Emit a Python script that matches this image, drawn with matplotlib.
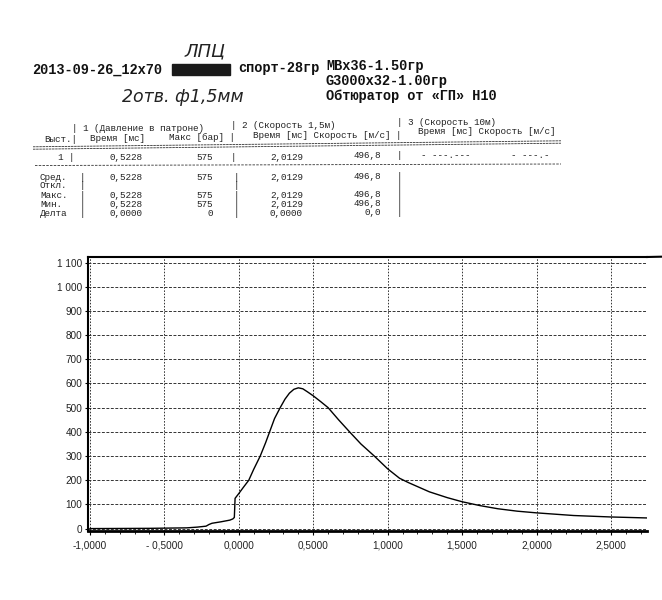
import matplotlib
matplotlib.use("Agg")
import matplotlib.pyplot as plt
from matplotlib.lines import Line2D
from matplotlib.patches import Rectangle
from matplotlib.ticker import MultipleLocator

# ---------------- data ----------------
time_ms = [-1.00, -0.60, -0.35, -0.28, -0.22, -0.20, -0.18, -0.12, -0.06, -0.04,
           -0.03, -0.025, 0.00, 0.03, 0.067, 0.10, 0.144, 0.18, 0.207, 0.24,
           0.278, 0.31, 0.34, 0.37, 0.40, 0.43, 0.46, 0.50, 0.55, 0.60,
           0.67, 0.744, 0.82, 0.91, 1.00, 1.08, 1.14, 1.28, 1.40, 1.50,
           1.62, 1.74, 1.87, 2.00, 2.25, 2.50, 2.74]
pressure_bar = [0, 1, 3, 6, 10, 17, 22, 28, 35, 40,
                46, 125, 145, 170, 200, 245, 300, 355, 400, 455,
                500, 535, 560, 576, 582, 578, 566, 549, 525, 500,
                450, 400, 350, 300, 247, 208, 190, 152, 128, 111,
                95, 82, 72, 65, 54, 48, 44]

x_ticks = [-1.0, -0.5, 0.0, 0.5, 1.0, 1.5, 2.0, 2.5]
x_tick_labels = ["-1,0000", "- 0,5000", "0,0000", "0,5000", "1,0000", "1,5000", "2,0000", "2,5000"]
y_ticks = [0, 100, 200, 300, 400, 500, 600, 700, 800, 900, 1000, 1100]
y_tick_labels = ["0", "100", "200", "300", "400", "500", "600", "700", "800", "900", "1 000", "1 100"]

header_lines = ["2013-09-26_12x70", "спорт-28гр", "MBx36-1.50гр", "G3000x32-1.00гр", "Обтюратор от «ГП» H10"]
hand_notes = ["ЛПЦ", "2отв. ф1,5мм"]

table_head_a = ["| 1 (Давление в патроне)", "| 2 (Скорость 1,5м)", "| 3 (Скорость 10м)"]
table_head_b = ["Выст.|", "Время [мс]", "Макс [бар] |", "Время [мс] Скорость [м/с] |", "Время [мс] Скорость [м/с]"]
shot_row = ["1 |", "0,5228", "575", "|", "2,0129", "496,8", "|", "- ---.---", "- ---.-"]
stat_labels = ["Сред.", "Откл.", "Макс.", "Мин.", "Делта"]
stat_time1 = ["0,5228", "", "0,5228", "0,5228", "0,0000"]
stat_pmax = ["575", "", "575", "575", "0"]
stat_time2 = ["2,0129", "", "2,0129", "2,0129", "0,0000"]
stat_speed = ["496,8", "", "496,8", "496,8", "0,0"]

# ---------------- figure ----------------
W, H = 662, 600
fig = plt.figure(figsize=(W / 100, H / 100), dpi=100)
fig.patch.set_facecolor("white")


def fx(x):
    return x / W


def fy(y):
    return 1 - y / H


def T(x, y, s, **kw):
    kw.setdefault("va", "center")
    fig.text(fx(x), fy(y), s, **kw)


mono_h = dict(family="Liberation Mono", fontsize=9.8, weight="bold", color="#111111")
mono_t = dict(family="Liberation Mono", fontsize=6.7, color="#222222")
hand = dict(family="DejaVu Sans", style="italic", color="#222222")

# header
T(31.7, 70, header_lines[0], **mono_h)
fig.patches.append(Rectangle((fx(172), fy(75)), fx(230) - fx(172), fy(64) - fy(75),
                             transform=fig.transFigure, color="#1a1a1a"))
T(238, 68, header_lines[1], **mono_h)
T(326, 66, header_lines[2], **mono_h)
T(326, 81, header_lines[3], **mono_h)
T(326, 96, header_lines[4], **mono_h)
T(185, 51, hand_notes[0], fontsize=13, **hand)
T(122, 97, hand_notes[1], fontsize=12.5, **hand)

# table header
T(72, 128.5, table_head_a[0], **mono_t)
T(231, 126, table_head_a[1], **mono_t)
T(397, 122.5, table_head_a[2], **mono_t)
T(44, 139, table_head_b[0], **mono_t)
T(90, 138.5, table_head_b[1], **mono_t)
T(169, 137.5, table_head_b[2], **mono_t)
T(253, 135, table_head_b[3], **mono_t)
T(418, 132, table_head_b[4], **mono_t)

# separator lines
for dy in (-1.2, 1.2):
    fig.add_artist(Line2D([fx(33), fx(561)], [fy(148 + dy), fy(142 + dy)],
                          transform=fig.transFigure, color="#333333", lw=0.6,
                          dashes=(3, 0.8)))
fig.add_artist(Line2D([fx(35), fx(561)], [fy(165.5), fy(164)],
                      transform=fig.transFigure, color="#333333", lw=0.6, dashes=(3, 1.5)))

# shot row
T(58, 157.5, shot_row[0], **mono_t)
T(143, 157.5, shot_row[1], ha="right", **mono_t)
T(213, 157, shot_row[2], ha="right", **mono_t)
T(233, 157, shot_row[3], ha="center", **mono_t)
T(303, 157, shot_row[4], ha="right", **mono_t)
T(381, 155.5, shot_row[5], ha="right", **mono_t)
T(399, 155.5, shot_row[6], ha="center", **mono_t)
T(421, 155, shot_row[7], **mono_t)
T(511, 155, shot_row[8], **mono_t)

# stats rows
stat_y = [177.5, 185.5, 195, 204, 213]
for i, yy in enumerate(stat_y):
    T(40, yy, stat_labels[i], **mono_t)
    T(82, yy, "|", ha="center", **mono_t)
    T(236, yy, "|", ha="center", **mono_t)
    T(399, yy - 0.5, "|", ha="center", **mono_t)
    if stat_time1[i]:
        T(143, yy, stat_time1[i], ha="right", **mono_t)
        T(213, yy, stat_pmax[i], ha="right", **mono_t)
        T(303, yy, stat_time2[i], ha="right", **mono_t)
        T(381, yy - 0.5, stat_speed[i], ha="right", **mono_t)

# ---------------- chart ----------------
ax = fig.add_axes([fx(88), fy(531), fx(647) - fx(88), fy(257) - fy(531)])
ax.plot(time_ms, pressure_bar, color="black", lw=1.0)
ax.set_xlim(-1.013, 2.742)
ax.set_ylim(-10, 1123)

ax.set_xticks(x_ticks)
ax.set_xticklabels(x_tick_labels, family="Liberation Sans", fontsize=7.2, color="#222222")
ax.set_yticks(y_ticks)
ax.set_yticklabels(y_tick_labels, family="Liberation Sans", fontsize=7.2, color="#222222")
ax.xaxis.set_minor_locator(MultipleLocator(0.1))
ax.tick_params(axis="x", which="major", direction="out", length=3, width=0.8, pad=4)
ax.tick_params(axis="x", which="minor", direction="out", length=2, width=0.6)
ax.tick_params(axis="y", which="major", direction="out", length=2.5, width=0.8, pad=1.5)

ax.grid(axis="y", which="major", color="#333333", lw=0.7, linestyle=(0, (3, 1.6)))
ax.grid(axis="x", which="major", color="#333333", lw=0.7, linestyle=(0, (1.6, 1.6)))
ax.set_axisbelow(True)

ax.spines["right"].set_visible(False)
ax.spines["left"].set_linewidth(1.5)
ax.spines["top"].set_linewidth(1.5)
ax.spines["bottom"].set_linewidth(2.0)

fig.add_artist(Line2D([fx(647), fx(661)], [fy(257), fy(256.7)],
                      transform=fig.transFigure, color="black", lw=1.5))

fig.savefig("out.png", dpi=100, facecolor="white")
